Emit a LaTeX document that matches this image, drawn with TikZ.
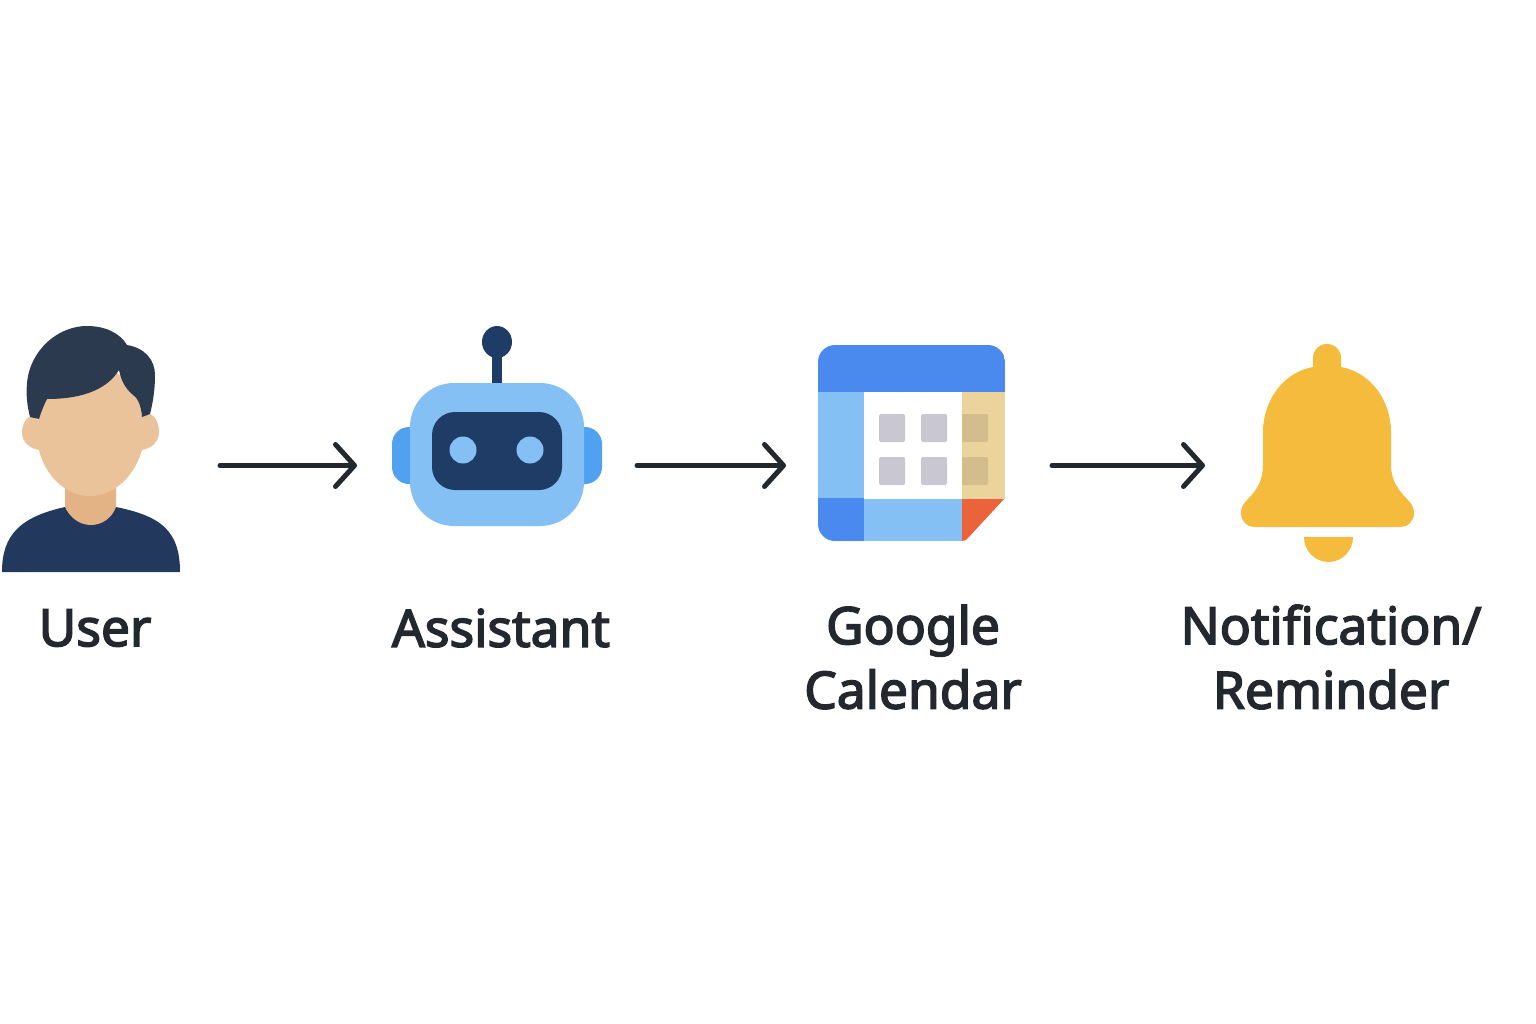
\documentclass[tikz,border=0pt]{standalone}
\usepackage{fontspec}
\setmainfont[FakeBold=3]{Noto Sans}
\usetikzlibrary{arrows.meta}
\definecolor{hair}{HTML}{2B3A4E}
\definecolor{navy}{HTML}{22385C}
\definecolor{skin}{HTML}{EBC39B}
\definecolor{neck}{HTML}{E3B386}
\definecolor{lblue}{HTML}{85C0F5}
\definecolor{mblue}{HTML}{50A1EF}
\definecolor{dblue}{HTML}{1F3C66}
\definecolor{cblue}{HTML}{4A89EE}
\definecolor{tan}{HTML}{EAD49B}
\definecolor{dtan}{HTML}{D3BD8C}
\definecolor{cgrey}{HTML}{C9C8D2}
\definecolor{cred}{HTML}{EC623B}
\definecolor{bell}{HTML}{F5BB3D}
\definecolor{ink}{HTML}{23272E}
\begin{document}
\begin{tikzpicture}[x=1pt,y=-1pt,
  iconbox/.style={inner sep=0pt,outer sep=0pt,minimum height=10pt},
  flow/.style={draw=ink,line width=5pt,line cap=round,
    -{Straight Barb[length=19pt,width=42pt,round,line width=5pt]}},
  caption/.style={text=ink,font=\fontsize{51.5}{64.5}\selectfont,align=center,inner sep=0pt},
  cell/.style={inner sep=0pt,fill=cgrey,rounded corners=1.5pt}]
\useasboundingbox (0,0) rectangle (1536,1024);
\fill[white] (0,0) rectangle (1536,1024);

% invisible anchors of the icons
\node[iconbox,minimum width=178pt] (user) at (91,465.5) {};
\node[iconbox,minimum width=210pt] (assistant) at (497,465.5) {};
\node[iconbox,minimum width=187pt] (calendar) at (911.5,465.5) {};
\node[iconbox,minimum width=173pt] (bellicon) at (1327.5,465.5) {};

% user
\fill[navy] (2,572) .. controls (2,535) and (20,517) .. (65,507)
  -- (116,507) .. controls (160,516) and (180,530) .. (180,572) -- cycle;
\fill[neck] (65,480) -- (65,507) .. controls (70,518) and (80,525) .. (91,525)
  .. controls (102,525) and (112,518) .. (116,507) -- (116,480) -- cycle;
\fill[skin] (33,416) .. controls (26,416) and (22,425) .. (22,433)
  .. controls (22,442) and (30,449) .. (40,450) -- (50,430) -- cycle;
\fill[skin] (145,410) -- (150,414) .. controls (156,416) and (159,425) .. (159,432)
  .. controls (159,442) and (151,449) .. (141,450) -- (130,430) -- cycle;
\fill[skin] (38,420) -- (39,450) .. controls (45,475) and (65,496) .. (90,496)
  .. controls (115,496) and (135,475) .. (142,450)
  -- (141,400) .. controls (125,375) and (110,365) .. (90,365)
  .. controls (55,365) and (38,385) .. (38,420) -- cycle;
\fill[hair] (30,417) .. controls (27,405) and (26,395) .. (27,383)
  .. controls (30,350) and (58,326) .. (87,326)
  .. controls (105,326) and (120,333) .. (127,345)
  .. controls (145,348) and (155,360) .. (155,375)
  .. controls (155,390) and (153,402) .. (150,414)
  -- (142,417) .. controls (141,405) and (138,398) .. (132,394)
  .. controls (125,388) and (121,380) .. (119,370)
  .. controls (108,388) and (85,399) .. (47,399)
  .. controls (44,405) and (41,412) .. (39,419) -- cycle;

% robot
\fill[mblue,rounded corners=17pt] (392,427) rectangle (440,484);
\fill[mblue,rounded corners=17pt] (554,427) rectangle (602,484);
\fill[dblue] (491.5,350) rectangle (502,384);
\fill[dblue] (497,326) .. controls (505,326) and (512,333) .. (512,342)
  .. controls (512,351) and (505,358) .. (497,358)
  .. controls (489,358) and (482,351) .. (482,342)
  .. controls (482,333) and (489,326) .. (497,326) -- cycle;
\fill[lblue,rounded corners=44pt] (410,383) rectangle (584,526);
\fill[dblue,rounded corners=23pt] (432,412) rectangle (562,490);
\fill[lblue] (463,450) circle[radius=13.5pt];
\fill[lblue] (530,450) circle[radius=13.5pt];

% calendar
\begin{scope}
\clip[rounded corners=17pt] (818,345) rectangle (1005,541) ;
\fill[cblue] (818,345) rectangle (1005,392);
\fill[lblue] (818,392) rectangle (864,498);
\fill[white] (864,392) rectangle (962,499);
\fill[tan] (962,392) rectangle (1005,499);
\fill[cblue] (818,498) rectangle (864,541);
\fill[lblue] (864,499) rectangle (962,541);
\end{scope}
\fill[cred] (962,499) -- (1004,499) -- (968,538) .. controls (966,540) and (965,541) .. (962,541) -- cycle;
\fill[cell] (879,414) rectangle (905,442);
\fill[cell] (921,414) rectangle (947,442);
\fill[cell] (879,457) rectangle (905,485);
\fill[cell] (921,457) rectangle (947,485);
\fill[dtan] (962,414) -- (986.5,414) .. controls (988,414) and (988,415) .. (988,416)
  -- (988,440) .. controls (988,442) and (987,442) .. (986,442) -- (962,442) -- cycle;
\fill[dtan] (962,457) -- (986.5,457) .. controls (988,457) and (988,458) .. (988,459)
  -- (988,483) .. controls (988,485) and (987,485) .. (986,485) -- (962,485) -- cycle;

% bell
\fill[bell] (1313,367) -- (1313,358) .. controls (1313,350) and (1319,344) .. (1327,344)
  .. controls (1335,344) and (1341,350) .. (1341,358) -- (1341,367)
  .. controls (1370,372) and (1391,400) .. (1391,432)
  -- (1391,465) .. controls (1391,480) and (1398,490) .. (1407,499)
  .. controls (1412,504) and (1414,508) .. (1414,513)
  .. controls (1414,521) and (1408,527) .. (1401,527)
  -- (1254,527) .. controls (1247,527) and (1241,521) .. (1241,513)
  .. controls (1241,508) and (1243,504) .. (1248,499)
  .. controls (1257,490) and (1263,480) .. (1263,465)
  -- (1263,432) .. controls (1263,400) and (1284,372) .. (1313,367) -- cycle;
\fill[bell] (1304,537) -- (1353,537) .. controls (1353,551) and (1342,562) .. (1328.5,562)
  .. controls (1315,562) and (1304,551) .. (1304,537) -- cycle;

% connectors
\draw[flow,shorten <=40pt,shorten >=35pt] (user) -- (assistant);
\draw[flow,shorten <=35pt,shorten >=32pt] (assistant) -- (calendar);
\draw[flow,shorten <=47pt,shorten >=36pt] (calendar) -- (bellicon);

% captions
\node[caption] (t1) at (95,628) {User};
\node[caption] (t2) at (501,628) {Assistant};
\node[caption] (t3) at (913,657) {Google\\Calendar};
\node[caption] (t4) at (1331,657) {Notification/\\Reminder};
\end{tikzpicture}
\end{document}
